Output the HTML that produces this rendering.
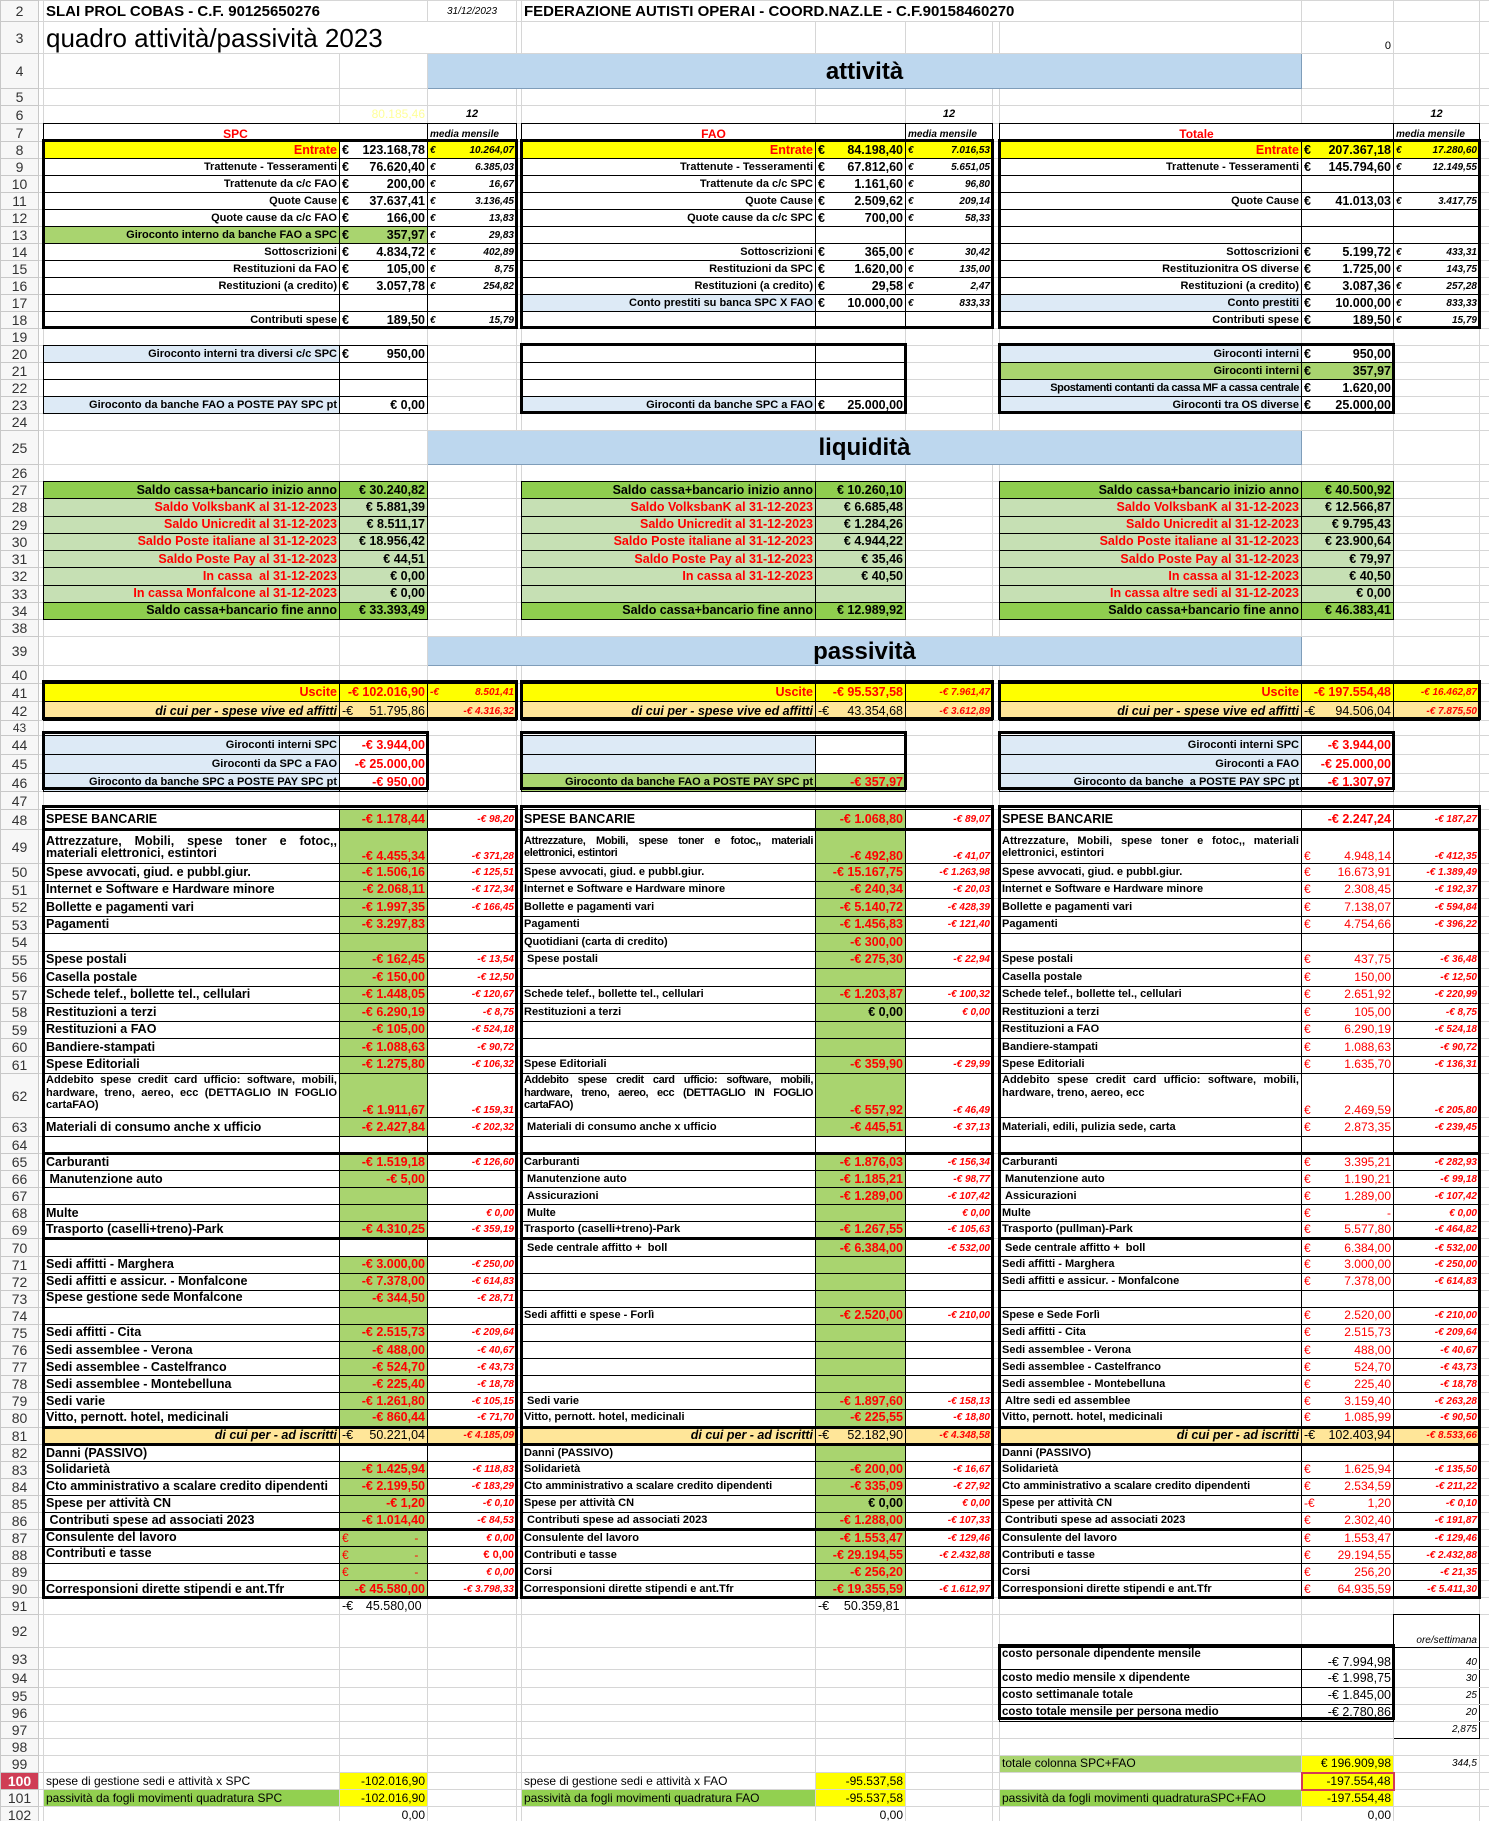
<!DOCTYPE html>
<html><head><meta charset="utf-8">
<style>
html,body{margin:0;padding:0;background:#fff;width:1489px;height:1821px;overflow:hidden;position:relative}
table{position:absolute;left:0;top:0;border-collapse:collapse;table-layout:fixed;width:1489px}
td{border:1px solid #d6d6d6;padding:0 2px;font:bold 11px "Liberation Sans",sans-serif;white-space:nowrap;overflow:hidden;vertical-align:middle;line-height:13px;color:#000}
td.n{font:normal 14px "Liberation Sans",sans-serif;color:#333;text-align:center;vertical-align:middle;background:#f7f7f7;border-color:#c8c8c8;padding:0}
td.hl{background:#cf3d55;color:#fff;font-weight:bold}
.k{border:1px double #000}
.tk td.k{border-bottom:3px solid #000}
.r{text-align:right}.c{text-align:center}
.rd{color:#f00}.it{font-style:italic}.nw{font-weight:normal}
.y{background:#ffff00}.g{background:#a9d46f}.lg{background:#c6e0b4}.dg{background:#8fce4f}.bl{background:#ddeaf6}.or{background:#ffe699}
.v{font-size:12.5px}
.m{font-style:italic;color:#f00;font-size:10px}
.mi{font-style:italic;font-size:10px}
.tv{color:#f00;font-weight:normal;font-size:12px}
.e{float:left}
.w{white-space:normal;text-align:justify;line-height:12.5px}
.bt{vertical-align:bottom}
.nar{letter-spacing:-0.4px}
.big{background:#bdd7ee;border:1px solid #7f9db9;text-align:center;vertical-align:middle;font-size:24px}
.ov{position:absolute;border:3px solid #000;box-sizing:border-box}
</style></head><body>
<table>
<colgroup><col style="width:38px"><col style="width:5px"><col style="width:296px"><col style="width:88px"><col style="width:89px"><col style="width:5px"><col style="width:294px"><col style="width:90px"><col style="width:87px"><col style="width:7px"><col style="width:302px"><col style="width:92px"><col style="width:86px"><col style="width:10px"></colgroup>
<tr style="height:21px"><td class="n">2</td><td></td><td colspan="2" style="font-size:15px">SLAI PROL COBAS - C.F. 90125650276</td><td class="c it nw" style="font-size:10px">31/12/2023</td><td></td><td colspan="5" style="font-size:15px">FEDERAZIONE AUTISTI OPERAI - COORD.NAZ.LE - C.F.90158460270</td><td></td><td></td><td></td></tr>
<tr style="height:32px"><td class="n">3</td><td></td><td colspan="3" class="nw" style="font-size:26px;line-height:30px">quadro attività/passività 2023</td><td></td><td></td><td></td><td></td><td></td><td></td><td class="r nw bt" style="font-size:11px">0</td><td></td><td></td></tr>
<tr style="height:35px"><td class="n">4</td><td></td><td></td><td></td><td colspan="7" class="big">attività</td><td></td><td></td><td></td></tr>
<tr style="height:16px"><td class="n">5</td><td></td><td></td><td></td><td></td><td></td><td></td><td></td><td></td><td></td><td></td><td></td><td></td><td></td></tr>
<tr style="height:18px"><td class="n">6</td><td></td><td></td><td class="r nw" style="color:#ffff99;font-size:12px">80.185,46</td><td class="c it">12</td><td></td><td></td><td></td><td class="c it">12</td><td></td><td></td><td></td><td class="c it">12</td><td></td></tr>
<tr style="height:18px"><td class="n">7</td><td></td><td colspan="2" class="k c rd bt" style="font-size:12px">SPC</td><td class="k mi bt">media mensile</td><td></td><td colspan="2" class="k c rd bt" style="font-size:12px">FAO</td><td class="k mi bt">media mensile</td><td></td><td colspan="2" class="k c rd bt" style="font-size:12px">Totale</td><td class="k mi bt">media mensile</td><td></td></tr>
<tr style="height:17px"><td class="n">8</td><td></td><td class="k r rd y" style="font-size:12.5px">Entrate</td><td class="k r v"><span class="e">€</span>123.168,78</td><td class="k r mi y"><span class="e">€</span>10.264,07</td><td></td><td class="k r rd y" style="font-size:12.5px">Entrate</td><td class="k r v y"><span class="e">€</span>84.198,40</td><td class="k r mi y"><span class="e">€</span>7.016,53</td><td></td><td class="k r rd y" style="font-size:12.5px">Entrate</td><td class="k r v y"><span class="e">€</span>207.367,18</td><td class="k r mi y"><span class="e">€</span>17.280,60</td><td></td></tr>
<tr style="height:17px"><td class="n">9</td><td></td><td class="k r">Trattenute - Tesseramenti</td><td class="k r v"><span class="e">€</span>76.620,40</td><td class="k r mi"><span class="e">€</span>6.385,03</td><td></td><td class="k r">Trattenute - Tesseramenti</td><td class="k r v"><span class="e">€</span>67.812,60</td><td class="k r mi"><span class="e">€</span>5.651,05</td><td></td><td class="k r">Trattenute - Tesseramenti</td><td class="k r v"><span class="e">€</span>145.794,60</td><td class="k r mi"><span class="e">€</span>12.149,55</td><td></td></tr>
<tr style="height:17px"><td class="n">10</td><td></td><td class="k r">Trattenute da c/c FAO</td><td class="k r v"><span class="e">€</span>200,00</td><td class="k r mi"><span class="e">€</span>16,67</td><td></td><td class="k r">Trattenute da c/c SPC</td><td class="k r v"><span class="e">€</span>1.161,60</td><td class="k r mi"><span class="e">€</span>96,80</td><td></td><td class="k"></td><td class="k"></td><td class="k"></td><td></td></tr>
<tr style="height:17px"><td class="n">11</td><td></td><td class="k r">Quote Cause</td><td class="k r v"><span class="e">€</span>37.637,41</td><td class="k r mi"><span class="e">€</span>3.136,45</td><td></td><td class="k r">Quote Cause</td><td class="k r v"><span class="e">€</span>2.509,62</td><td class="k r mi"><span class="e">€</span>209,14</td><td></td><td class="k r">Quote Cause</td><td class="k r v"><span class="e">€</span>41.013,03</td><td class="k r mi"><span class="e">€</span>3.417,75</td><td></td></tr>
<tr style="height:17px"><td class="n">12</td><td></td><td class="k r">Quote cause da c/c FAO</td><td class="k r v"><span class="e">€</span>166,00</td><td class="k r mi"><span class="e">€</span>13,83</td><td></td><td class="k r">Quote cause da c/c SPC</td><td class="k r v"><span class="e">€</span>700,00</td><td class="k r mi"><span class="e">€</span>58,33</td><td></td><td class="k"></td><td class="k"></td><td class="k"></td><td></td></tr>
<tr style="height:17px"><td class="n">13</td><td></td><td class="k r g">Giroconto interno da banche FAO a SPC</td><td class="k r v g"><span class="e">€</span>357,97</td><td class="k r mi"><span class="e">€</span>29,83</td><td></td><td class="k"></td><td class="k"></td><td class="k"></td><td></td><td class="k"></td><td class="k"></td><td class="k"></td><td></td></tr>
<tr style="height:17px"><td class="n">14</td><td></td><td class="k r">Sottoscrizioni</td><td class="k r v"><span class="e">€</span>4.834,72</td><td class="k r mi"><span class="e">€</span>402,89</td><td></td><td class="k r">Sottoscrizioni</td><td class="k r v"><span class="e">€</span>365,00</td><td class="k r mi"><span class="e">€</span>30,42</td><td></td><td class="k r">Sottoscrizioni</td><td class="k r v"><span class="e">€</span>5.199,72</td><td class="k r mi"><span class="e">€</span>433,31</td><td></td></tr>
<tr style="height:17px"><td class="n">15</td><td></td><td class="k r">Restituzioni da FAO</td><td class="k r v"><span class="e">€</span>105,00</td><td class="k r mi"><span class="e">€</span>8,75</td><td></td><td class="k r">Restituzioni da SPC</td><td class="k r v"><span class="e">€</span>1.620,00</td><td class="k r mi"><span class="e">€</span>135,00</td><td></td><td class="k r">Restituzionitra OS diverse</td><td class="k r v"><span class="e">€</span>1.725,00</td><td class="k r mi"><span class="e">€</span>143,75</td><td></td></tr>
<tr style="height:17px"><td class="n">16</td><td></td><td class="k r">Restituzioni (a credito)</td><td class="k r v"><span class="e">€</span>3.057,78</td><td class="k r mi"><span class="e">€</span>254,82</td><td></td><td class="k r">Restituzioni (a credito)</td><td class="k r v"><span class="e">€</span>29,58</td><td class="k r mi"><span class="e">€</span>2,47</td><td></td><td class="k r">Restituzioni (a credito)</td><td class="k r v"><span class="e">€</span>3.087,36</td><td class="k r mi"><span class="e">€</span>257,28</td><td></td></tr>
<tr style="height:17px"><td class="n">17</td><td></td><td class="k"></td><td class="k"></td><td class="k"></td><td></td><td class="k r bl">Conto prestiti su banca SPC X FAO</td><td class="k r v"><span class="e">€</span>10.000,00</td><td class="k r mi"><span class="e">€</span>833,33</td><td></td><td class="k r bl">Conto prestiti</td><td class="k r v"><span class="e">€</span>10.000,00</td><td class="k r mi"><span class="e">€</span>833,33</td><td></td></tr>
<tr style="height:17px"><td class="n">18</td><td></td><td class="k r">Contributi spese</td><td class="k r v"><span class="e">€</span>189,50</td><td class="k r mi"><span class="e">€</span>15,79</td><td></td><td class="k"></td><td class="k"></td><td class="k"></td><td></td><td class="k r">Contributi spese</td><td class="k r v"><span class="e">€</span>189,50</td><td class="k r mi"><span class="e">€</span>15,79</td><td></td></tr>
<tr style="height:17px"><td class="n">19</td><td></td><td></td><td></td><td></td><td></td><td></td><td></td><td></td><td></td><td></td><td></td><td></td><td></td></tr>
<tr style="height:17px"><td class="n">20</td><td></td><td class="k r bl">Giroconto interni tra diversi c/c SPC</td><td class="k r v"><span class="e">€</span>950,00</td><td></td><td></td><td class="k"></td><td class="k"></td><td></td><td></td><td class="k r bl">Giroconti interni</td><td class="k r v"><span class="e">€</span>950,00</td><td></td><td></td></tr>
<tr style="height:17px"><td class="n">21</td><td></td><td class="k"></td><td class="k"></td><td></td><td></td><td class="k"></td><td class="k"></td><td></td><td></td><td class="k r g">Giroconti interni</td><td class="k r v g"><span class="e">€</span>357,97</td><td></td><td></td></tr>
<tr style="height:17px"><td class="n">22</td><td></td><td class="k"></td><td class="k"></td><td></td><td></td><td class="k"></td><td class="k"></td><td></td><td></td><td class="k r bl nar">Spostamenti contanti da cassa MF a cassa centrale</td><td class="k r v"><span class="e">€</span>1.620,00</td><td></td><td></td></tr>
<tr style="height:17px"><td class="n">23</td><td></td><td class="k r bl">Giroconto da banche FAO a POSTE PAY SPC pt</td><td class="k r v">€ 0,00</td><td></td><td></td><td class="k r bl">Giroconti da banche SPC a FAO</td><td class="k r v"><span class="e">€</span>25.000,00</td><td></td><td></td><td class="k r bl">Giroconti tra OS diverse</td><td class="k r v"><span class="e">€</span>25.000,00</td><td></td><td></td></tr>
<tr style="height:17px"><td class="n">24</td><td></td><td></td><td></td><td></td><td></td><td></td><td></td><td></td><td></td><td></td><td></td><td></td><td></td></tr>
<tr style="height:34px"><td class="n">25</td><td></td><td></td><td></td><td colspan="7" class="big">liquidità</td><td></td><td></td><td></td></tr>
<tr style="height:17px"><td class="n">26</td><td></td><td></td><td></td><td></td><td></td><td></td><td></td><td></td><td></td><td></td><td></td><td></td><td></td></tr>
<tr style="height:17.25px"><td class="n">27</td><td></td><td class="k r dg v">Saldo cassa+bancario inizio anno</td><td class="k r dg v">€ 30.240,82</td><td></td><td></td><td class="k r dg v">Saldo cassa+bancario inizio anno</td><td class="k r dg v">€ 10.260,10</td><td></td><td></td><td class="k r dg v">Saldo cassa+bancario inizio anno</td><td class="k r dg v">€ 40.500,92</td><td></td><td></td></tr>
<tr style="height:17.25px"><td class="n">28</td><td></td><td class="k r lg rd v">Saldo VolksbanK al 31-12-2023</td><td class="k r lg v">€ 5.881,39</td><td></td><td></td><td class="k r lg rd v">Saldo VolksbanK al 31-12-2023</td><td class="k r lg v">€ 6.685,48</td><td></td><td></td><td class="k r lg rd v">Saldo VolksbanK al 31-12-2023</td><td class="k r lg v">€ 12.566,87</td><td></td><td></td></tr>
<tr style="height:17.25px"><td class="n">29</td><td></td><td class="k r lg rd v">Saldo Unicredit al 31-12-2023</td><td class="k r lg v">€ 8.511,17</td><td></td><td></td><td class="k r lg rd v">Saldo Unicredit al 31-12-2023</td><td class="k r lg v">€ 1.284,26</td><td></td><td></td><td class="k r lg rd v">Saldo Unicredit al 31-12-2023</td><td class="k r lg v">€ 9.795,43</td><td></td><td></td></tr>
<tr style="height:17.25px"><td class="n">30</td><td></td><td class="k r lg rd v">Saldo Poste italiane al 31-12-2023</td><td class="k r lg v">€ 18.956,42</td><td></td><td></td><td class="k r lg rd v">Saldo Poste italiane al 31-12-2023</td><td class="k r lg v">€ 4.944,22</td><td></td><td></td><td class="k r lg rd v">Saldo Poste italiane al 31-12-2023</td><td class="k r lg v">€ 23.900,64</td><td></td><td></td></tr>
<tr style="height:17.25px"><td class="n">31</td><td></td><td class="k r lg rd v">Saldo Poste Pay al 31-12-2023</td><td class="k r lg v">€ 44,51</td><td></td><td></td><td class="k r lg rd v">Saldo Poste Pay al 31-12-2023</td><td class="k r lg v">€ 35,46</td><td></td><td></td><td class="k r lg rd v">Saldo Poste Pay al 31-12-2023</td><td class="k r lg v">€ 79,97</td><td></td><td></td></tr>
<tr style="height:17.25px"><td class="n">32</td><td></td><td class="k r lg rd v">In cassa &nbsp;al 31-12-2023</td><td class="k r lg v">€ 0,00</td><td></td><td></td><td class="k r lg rd v">In cassa al 31-12-2023</td><td class="k r lg v">€ 40,50</td><td></td><td></td><td class="k r lg rd v">In cassa al 31-12-2023</td><td class="k r lg v">€ 40,50</td><td></td><td></td></tr>
<tr style="height:17.25px"><td class="n">33</td><td></td><td class="k r lg rd v">In cassa Monfalcone al 31-12-2023</td><td class="k r lg v">€ 0,00</td><td></td><td></td><td class="k r lg rd v"></td><td class="k r lg v"></td><td></td><td></td><td class="k r lg rd v">In cassa altre sedi al 31-12-2023</td><td class="k r lg v">€ 0,00</td><td></td><td></td></tr>
<tr style="height:17.25px"><td class="n">34</td><td></td><td class="k r dg v">Saldo cassa+bancario fine anno</td><td class="k r dg v">€ 33.393,49</td><td></td><td></td><td class="k r dg v">Saldo cassa+bancario fine anno</td><td class="k r dg v">€ 12.989,92</td><td></td><td></td><td class="k r dg v">Saldo cassa+bancario fine anno</td><td class="k r dg v">€ 46.383,41</td><td></td><td></td></tr>
<tr style="height:16px"><td class="n">38</td><td></td><td></td><td></td><td></td><td></td><td></td><td></td><td></td><td></td><td></td><td></td><td></td><td></td></tr>
<tr style="height:29px"><td class="n">39</td><td></td><td></td><td></td><td colspan="7" class="big">passività</td><td></td><td></td><td></td></tr>
<tr style="height:18px"><td class="n">40</td><td></td><td></td><td></td><td></td><td></td><td></td><td></td><td></td><td></td><td></td><td></td><td></td><td></td></tr>
<tr style="height:18px"><td class="n">41</td><td></td><td class="k r y rd v">Uscite</td><td class="k r y rd v">-€ 102.016,90</td><td class="k r y m"><span class="e">-€</span>8.501,41</td><td></td><td class="k r y rd v">Uscite</td><td class="k r y rd v">-€ 95.537,58</td><td class="k r y m">-€ 7.961,47</td><td></td><td class="k r y rd v">Uscite</td><td class="k r y rd v">-€ 197.554,48</td><td class="k r y m">-€ 16.462,87</td><td></td></tr>
<tr style="height:19px"><td class="n">42</td><td></td><td class="k r or it v">di cui per - spese vive ed affitti</td><td class="k r or nw v"><span class="e">-€</span>51.795,86</td><td class="k r or m">-€ 4.316,32</td><td></td><td class="k r or it v">di cui per - spese vive ed affitti</td><td class="k r or nw v"><span class="e">-€</span>43.354,68</td><td class="k r or m">-€ 3.612,89</td><td></td><td class="k r or it v">di cui per - spese vive ed affitti</td><td class="k r or nw v"><span class="e">-€</span>94.506,04</td><td class="k r or m">-€ 7.875,50</td><td></td></tr>
<tr style="height:14px"><td class="n" style="font-size:12px">43</td><td></td><td></td><td></td><td></td><td></td><td></td><td></td><td></td><td></td><td></td><td></td><td></td><td></td></tr>
<tr style="height:19px"><td class="n">44</td><td></td><td class="k r bl">Giroconti interni SPC</td><td class="k r rd v">-€ 3.944,00</td><td></td><td></td><td class="k bl"></td><td class="k"></td><td></td><td></td><td class="k r bl">Giroconti interni SPC</td><td class="k r rd v">-€ 3.944,00</td><td></td><td></td></tr>
<tr style="height:19px"><td class="n">45</td><td></td><td class="k r bl">Giroconti da SPC a FAO</td><td class="k r rd v">-€ 25.000,00</td><td></td><td></td><td class="k bl"></td><td class="k"></td><td></td><td></td><td class="k r bl">Giroconti a FAO</td><td class="k r rd v">-€ 25.000,00</td><td></td><td></td></tr>
<tr style="height:18px"><td class="n">46</td><td></td><td class="k r bl">Giroconto da banche SPC a POSTE PAY SPC pt</td><td class="k r rd v">-€ 950,00</td><td></td><td></td><td class="k r g">Giroconto da banche FAO a POSTE PAY SPC pt</td><td class="k r rd v g">-€ 357,97</td><td></td><td></td><td class="k r bl">Giroconto da banche &nbsp;a POSTE PAY SPC pt</td><td class="k r rd v">-€ 1.307,97</td><td></td><td></td></tr>
<tr style="height:18px"><td class="n">47</td><td></td><td></td><td></td><td></td><td></td><td></td><td></td><td></td><td></td><td></td><td></td><td></td><td></td></tr>
<tr class="tk" style="height:20px"><td class="n">48</td><td></td><td class="k v">SPESE BANCARIE</td><td class="k r g rd v">-€ 1.178,44</td><td class="k r m">-€ 98,20</td><td></td><td class="k v">SPESE BANCARIE</td><td class="k r g rd v">-€ 1.068,80</td><td class="k r m">-€ 89,07</td><td></td><td class="k v">SPESE BANCARIE</td><td class="k r rd v">-€ 2.247,24</td><td class="k r m">-€ 187,27</td><td></td></tr>
<tr style="height:34px"><td class="n">49</td><td></td><td class="k w v">Attrezzature, Mobili, spese toner e fotoc,, materiali elettronici, estintori</td><td class="k r g rd v bt">-€ 4.455,34</td><td class="k r m bt">-€ 371,28</td><td></td><td class="k w nar">Attrezzature, Mobili, spese toner e fotoc,, materiali elettronici, estintori</td><td class="k r g rd v bt">-€ 492,80</td><td class="k r m bt">-€ 41,07</td><td></td><td class="k w">Attrezzature, Mobili, spese toner e fotoc,, materiali elettronici, estintori</td><td class="k r tv bt"><span class="e">€</span>4.948,14</td><td class="k r m bt">-€ 412,35</td><td></td></tr>
<tr style="height:17.5px"><td class="n">50</td><td></td><td class="k v">Spese avvocati, giud. e pubbl.giur.</td><td class="k r g rd v">-€ 1.506,16</td><td class="k r m">-€ 125,51</td><td></td><td class="k">Spese avvocati, giud. e pubbl.giur.</td><td class="k r g rd v">-€ 15.167,75</td><td class="k r m">-€ 1.263,98</td><td></td><td class="k">Spese avvocati, giud. e pubbl.giur.</td><td class="k r tv"><span class="e">€</span>16.673,91</td><td class="k r m">-€ 1.389,49</td><td></td></tr>
<tr style="height:17.5px"><td class="n">51</td><td></td><td class="k v">Internet e Software e Hardware minore</td><td class="k r g rd v">-€ 2.068,11</td><td class="k r m">-€ 172,34</td><td></td><td class="k">Internet e Software e Hardware minore</td><td class="k r g rd v">-€ 240,34</td><td class="k r m">-€ 20,03</td><td></td><td class="k">Internet e Software e Hardware minore</td><td class="k r tv"><span class="e">€</span>2.308,45</td><td class="k r m">-€ 192,37</td><td></td></tr>
<tr style="height:17.5px"><td class="n">52</td><td></td><td class="k v">Bollette e pagamenti vari</td><td class="k r g rd v">-€ 1.997,35</td><td class="k r m">-€ 166,45</td><td></td><td class="k">Bollette e pagamenti vari</td><td class="k r g rd v">-€ 5.140,72</td><td class="k r m">-€ 428,39</td><td></td><td class="k">Bollette e pagamenti vari</td><td class="k r tv"><span class="e">€</span>7.138,07</td><td class="k r m">-€ 594,84</td><td></td></tr>
<tr style="height:17.5px"><td class="n">53</td><td></td><td class="k v">Pagamenti</td><td class="k r g rd v">-€ 3.297,83</td><td class="k"></td><td></td><td class="k">Pagamenti</td><td class="k r g rd v">-€ 1.456,83</td><td class="k r m">-€ 121,40</td><td></td><td class="k">Pagamenti</td><td class="k r tv"><span class="e">€</span>4.754,66</td><td class="k r m">-€ 396,22</td><td></td></tr>
<tr style="height:17.5px"><td class="n">54</td><td></td><td class="k"></td><td class="k g"></td><td class="k"></td><td></td><td class="k">Quotidiani (carta di credito)</td><td class="k r g rd v">-€ 300,00</td><td class="k"></td><td></td><td class="k"></td><td class="k"></td><td class="k"></td><td></td></tr>
<tr style="height:17.5px"><td class="n">55</td><td></td><td class="k v">Spese postali</td><td class="k r g rd v">-€ 162,45</td><td class="k r m">-€ 13,54</td><td></td><td class="k">&nbsp;Spese postali</td><td class="k r g rd v">-€ 275,30</td><td class="k r m">-€ 22,94</td><td></td><td class="k">Spese postali</td><td class="k r tv"><span class="e">€</span>437,75</td><td class="k r m">-€ 36,48</td><td></td></tr>
<tr style="height:17.5px"><td class="n">56</td><td></td><td class="k v">Casella postale</td><td class="k r g rd v">-€ 150,00</td><td class="k r m">-€ 12,50</td><td></td><td class="k"></td><td class="k g"></td><td class="k"></td><td></td><td class="k">Casella postale</td><td class="k r tv"><span class="e">€</span>150,00</td><td class="k r m">-€ 12,50</td><td></td></tr>
<tr style="height:17.5px"><td class="n">57</td><td></td><td class="k v">Schede telef., bollette tel., cellulari</td><td class="k r g rd v">-€ 1.448,05</td><td class="k r m">-€ 120,67</td><td></td><td class="k">Schede telef., bollette tel., cellulari</td><td class="k r g rd v">-€ 1.203,87</td><td class="k r m">-€ 100,32</td><td></td><td class="k">Schede telef., bollette tel., cellulari</td><td class="k r tv"><span class="e">€</span>2.651,92</td><td class="k r m">-€ 220,99</td><td></td></tr>
<tr style="height:17.5px"><td class="n">58</td><td></td><td class="k v">Restituzioni a terzi</td><td class="k r g rd v">-€ 6.290,19</td><td class="k r m">-€ 8,75</td><td></td><td class="k">Restituzioni a terzi</td><td class="k r g v">€ 0,00</td><td class="k r m">€ 0,00</td><td></td><td class="k">Restituzioni a terzi</td><td class="k r tv"><span class="e">€</span>105,00</td><td class="k r m">-€ 8,75</td><td></td></tr>
<tr style="height:17.5px"><td class="n">59</td><td></td><td class="k v">Restituzioni a FAO</td><td class="k r g rd v">-€ 105,00</td><td class="k r m">-€ 524,18</td><td></td><td class="k"></td><td class="k g"></td><td class="k"></td><td></td><td class="k">Restituzioni a FAO</td><td class="k r tv"><span class="e">€</span>6.290,19</td><td class="k r m">-€ 524,18</td><td></td></tr>
<tr style="height:17.5px"><td class="n">60</td><td></td><td class="k v">Bandiere-stampati</td><td class="k r g rd v">-€ 1.088,63</td><td class="k r m">-€ 90,72</td><td></td><td class="k"></td><td class="k g"></td><td class="k"></td><td></td><td class="k">Bandiere-stampati</td><td class="k r tv"><span class="e">€</span>1.088,63</td><td class="k r m">-€ 90,72</td><td></td></tr>
<tr style="height:17.5px"><td class="n">61</td><td></td><td class="k v">Spese Editoriali</td><td class="k r g rd v">-€ 1.275,80</td><td class="k r m">-€ 106,32</td><td></td><td class="k">Spese Editoriali</td><td class="k r g rd v">-€ 359,90</td><td class="k r m">-€ 29,99</td><td></td><td class="k">Spese Editoriali</td><td class="k r tv"><span class="e">€</span>1.635,70</td><td class="k r m">-€ 136,31</td><td></td></tr>
<tr style="height:44px"><td class="n">62</td><td></td><td class="k w" style="vertical-align:top">Addebito spese credit card ufficio: software, mobili, hardware, treno, aereo, ecc (DETTAGLIO IN FOGLIO cartaFAO)</td><td class="k r g rd v bt">-€ 1.911,67</td><td class="k r m bt">-€ 159,31</td><td></td><td class="k w nar" style="vertical-align:top">Addebito spese credit card ufficio: software, mobili, hardware, treno, aereo, ecc (DETTAGLIO IN FOGLIO cartaFAO)</td><td class="k r g rd v bt">-€ 557,92</td><td class="k r m bt">-€ 46,49</td><td></td><td class="k w" style="vertical-align:top">Addebito spese credit card ufficio: software, mobili, hardware, treno, aereo, ecc</td><td class="k r tv bt"><span class="e">€</span>2.469,59</td><td class="k r m bt">-€ 205,80</td><td></td></tr>
<tr style="height:19px"><td class="n">63</td><td></td><td class="k v">Materiali di consumo anche x ufficio</td><td class="k r g rd v">-€ 2.427,84</td><td class="k r m">-€ 202,32</td><td></td><td class="k">&nbsp;Materiali di consumo anche x ufficio</td><td class="k r g rd v">-€ 445,51</td><td class="k r m">-€ 37,13</td><td></td><td class="k">Materiali, edili, pulizia sede, carta</td><td class="k r tv"><span class="e">€</span>2.873,35</td><td class="k r m">-€ 239,45</td><td></td></tr>
<tr class="tk" style="height:17px"><td class="n">64</td><td></td><td class="k"></td><td class="k"></td><td class="k"></td><td></td><td class="k"></td><td class="k"></td><td class="k"></td><td></td><td class="k"></td><td class="k"></td><td class="k"></td><td></td></tr>
<tr style="height:17.1px"><td class="n">65</td><td></td><td class="k v">Carburanti</td><td class="k r g rd v">-€ 1.519,18</td><td class="k r m">-€ 126,60</td><td></td><td class="k">Carburanti</td><td class="k r g rd v">-€ 1.876,03</td><td class="k r m">-€ 156,34</td><td></td><td class="k">Carburanti</td><td class="k r tv"><span class="e">€</span>3.395,21</td><td class="k r m">-€ 282,93</td><td></td></tr>
<tr style="height:17.1px"><td class="n">66</td><td></td><td class="k v">&nbsp;Manutenzione auto</td><td class="k r g rd v">-€ 5,00</td><td class="k"></td><td></td><td class="k">&nbsp;Manutenzione auto</td><td class="k r g rd v">-€ 1.185,21</td><td class="k r m">-€ 98,77</td><td></td><td class="k">&nbsp;Manutenzione auto</td><td class="k r tv"><span class="e">€</span>1.190,21</td><td class="k r m">-€ 99,18</td><td></td></tr>
<tr style="height:17.1px"><td class="n">67</td><td></td><td class="k"></td><td class="k g"></td><td class="k"></td><td></td><td class="k">&nbsp;Assicurazioni</td><td class="k r g rd v">-€ 1.289,00</td><td class="k r m">-€ 107,42</td><td></td><td class="k">&nbsp;Assicurazioni</td><td class="k r tv"><span class="e">€</span>1.289,00</td><td class="k r m">-€ 107,42</td><td></td></tr>
<tr style="height:17.1px"><td class="n">68</td><td></td><td class="k v">Multe</td><td class="k g"></td><td class="k r m">€ 0,00</td><td></td><td class="k">&nbsp;Multe</td><td class="k g"></td><td class="k r m">€ 0,00</td><td></td><td class="k">Multe</td><td class="k r tv"><span class="e">€</span>-</td><td class="k r m">€ 0,00</td><td></td></tr>
<tr class="tk" style="height:17.1px"><td class="n">69</td><td></td><td class="k v">Trasporto (caselli+treno)-Park</td><td class="k r g rd v">-€ 4.310,25</td><td class="k r m">-€ 359,19</td><td></td><td class="k">Trasporto (caselli+treno)-Park</td><td class="k r g rd v">-€ 1.267,55</td><td class="k r m">-€ 105,63</td><td></td><td class="k">Trasporto (pullman)-Park</td><td class="k r tv"><span class="e">€</span>5.577,80</td><td class="k r m">-€ 464,82</td><td></td></tr>
<tr style="height:17.1px"><td class="n">70</td><td></td><td class="k"></td><td class="k"></td><td class="k"></td><td></td><td class="k">&nbsp;Sede centrale affitto + &nbsp;boll</td><td class="k r g rd v">-€ 6.384,00</td><td class="k r m">-€ 532,00</td><td></td><td class="k">&nbsp;Sede centrale affitto + &nbsp;boll</td><td class="k r tv"><span class="e">€</span>6.384,00</td><td class="k r m">-€ 532,00</td><td></td></tr>
<tr style="height:17.1px"><td class="n">71</td><td></td><td class="k v">Sedi affitti - Marghera</td><td class="k r g rd v">-€ 3.000,00</td><td class="k r m">-€ 250,00</td><td></td><td class="k"></td><td class="k g"></td><td class="k"></td><td></td><td class="k">Sedi affitti - Marghera</td><td class="k r tv"><span class="e">€</span>3.000,00</td><td class="k r m">-€ 250,00</td><td></td></tr>
<tr style="height:17.1px"><td class="n">72</td><td></td><td class="k v">Sedi affitti e assicur. - Monfalcone</td><td class="k r g rd v">-€ 7.378,00</td><td class="k r m">-€ 614,83</td><td></td><td class="k"></td><td class="k g"></td><td class="k"></td><td></td><td class="k">Sedi affitti e assicur. - Monfalcone</td><td class="k r tv"><span class="e">€</span>7.378,00</td><td class="k r m">-€ 614,83</td><td></td></tr>
<tr style="height:17.1px"><td class="n">73</td><td></td><td class="k v" style="vertical-align:top">Spese gestione sede Monfalcone</td><td class="k r g rd v">-€ 344,50</td><td class="k r m">-€ 28,71</td><td></td><td class="k"></td><td class="k g"></td><td class="k"></td><td></td><td class="k"></td><td class="k"></td><td class="k"></td><td></td></tr>
<tr style="height:17.1px"><td class="n">74</td><td></td><td class="k"></td><td class="k g"></td><td class="k"></td><td></td><td class="k">Sedi affitti e spese - Forlì</td><td class="k r g rd v">-€ 2.520,00</td><td class="k r m">-€ 210,00</td><td></td><td class="k">Spese e Sede Forlì</td><td class="k r tv"><span class="e">€</span>2.520,00</td><td class="k r m">-€ 210,00</td><td></td></tr>
<tr style="height:17.1px"><td class="n">75</td><td></td><td class="k v">Sedi affitti - Cita</td><td class="k r g rd v">-€ 2.515,73</td><td class="k r m">-€ 209,64</td><td></td><td class="k"></td><td class="k g"></td><td class="k"></td><td></td><td class="k">Sedi affitti - Cita</td><td class="k r tv"><span class="e">€</span>2.515,73</td><td class="k r m">-€ 209,64</td><td></td></tr>
<tr style="height:17.1px"><td class="n">76</td><td></td><td class="k v">Sedi assemblee - Verona</td><td class="k r g rd v">-€ 488,00</td><td class="k r m">-€ 40,67</td><td></td><td class="k"></td><td class="k g"></td><td class="k"></td><td></td><td class="k">Sedi assemblee - Verona</td><td class="k r tv"><span class="e">€</span>488,00</td><td class="k r m">-€ 40,67</td><td></td></tr>
<tr style="height:17.1px"><td class="n">77</td><td></td><td class="k v">Sedi assemblee - Castelfranco</td><td class="k r g rd v">-€ 524,70</td><td class="k r m">-€ 43,73</td><td></td><td class="k"></td><td class="k g"></td><td class="k"></td><td></td><td class="k">Sedi assemblee - Castelfranco</td><td class="k r tv"><span class="e">€</span>524,70</td><td class="k r m">-€ 43,73</td><td></td></tr>
<tr style="height:17.1px"><td class="n">78</td><td></td><td class="k v">Sedi assemblee - Montebelluna</td><td class="k r g rd v">-€ 225,40</td><td class="k r m">-€ 18,78</td><td></td><td class="k"></td><td class="k g"></td><td class="k"></td><td></td><td class="k">Sedi assemblee - Montebelluna</td><td class="k r tv"><span class="e">€</span>225,40</td><td class="k r m">-€ 18,78</td><td></td></tr>
<tr style="height:17.1px"><td class="n">79</td><td></td><td class="k v">Sedi varie</td><td class="k r g rd v">-€ 1.261,80</td><td class="k r m">-€ 105,15</td><td></td><td class="k">&nbsp;Sedi varie</td><td class="k r g rd v">-€ 1.897,60</td><td class="k r m">-€ 158,13</td><td></td><td class="k">&nbsp;Altre sedi ed assemblee</td><td class="k r tv"><span class="e">€</span>3.159,40</td><td class="k r m">-€ 263,28</td><td></td></tr>
<tr class="tk" style="height:17.1px"><td class="n">80</td><td></td><td class="k v">Vitto, pernott. hotel, medicinali</td><td class="k r g rd v">-€ 860,44</td><td class="k r m">-€ 71,70</td><td></td><td class="k">Vitto, pernott. hotel, medicinali</td><td class="k r g rd v">-€ 225,55</td><td class="k r m">-€ 18,80</td><td></td><td class="k">Vitto, pernott. hotel, medicinali</td><td class="k r tv"><span class="e">€</span>1.085,99</td><td class="k r m">-€ 90,50</td><td></td></tr>
<tr class="tk" style="height:17.1px"><td class="n">81</td><td></td><td class="k r or it v">di cui per - ad iscritti</td><td class="k r or nw v"><span class="e">-€</span>50.221,04</td><td class="k r or m">-€ 4.185,09</td><td></td><td class="k r or it v">di cui per - ad iscritti</td><td class="k r or nw v"><span class="e">-€</span>52.182,90</td><td class="k r or m">-€ 4.348,58</td><td></td><td class="k r or it v">di cui per - ad iscritti</td><td class="k r or nw v"><span class="e">-€</span>102.403,94</td><td class="k r or m">-€ 8.533,66</td><td></td></tr>
<tr style="height:17.1px"><td class="n">82</td><td></td><td class="k v">Danni (PASSIVO)</td><td class="k"></td><td class="k"></td><td></td><td class="k">Danni (PASSIVO)</td><td class="k g"></td><td class="k"></td><td></td><td class="k">Danni (PASSIVO)</td><td class="k"></td><td class="k"></td><td></td></tr>
<tr style="height:17.1px"><td class="n">83</td><td></td><td class="k v">Solidarietà</td><td class="k r g rd v">-€ 1.425,94</td><td class="k r m">-€ 118,83</td><td></td><td class="k">Solidarietà</td><td class="k r g rd v">-€ 200,00</td><td class="k r m">-€ 16,67</td><td></td><td class="k">Solidarietà</td><td class="k r tv"><span class="e">€</span>1.625,94</td><td class="k r m">-€ 135,50</td><td></td></tr>
<tr style="height:17.1px"><td class="n">84</td><td></td><td class="k v">Cto amministrativo a scalare credito dipendenti</td><td class="k r g rd v">-€ 2.199,50</td><td class="k r m">-€ 183,29</td><td></td><td class="k">Cto amministrativo a scalare credito dipendenti</td><td class="k r g rd v">-€ 335,09</td><td class="k r m">-€ 27,92</td><td></td><td class="k">Cto amministrativo a scalare credito dipendenti</td><td class="k r tv"><span class="e">€</span>2.534,59</td><td class="k r m">-€ 211,22</td><td></td></tr>
<tr style="height:17.1px"><td class="n">85</td><td></td><td class="k v">Spese per attività CN</td><td class="k r g rd v">-€ 1,20</td><td class="k r m">-€ 0,10</td><td></td><td class="k">Spese per attività CN</td><td class="k r g v">€ 0,00</td><td class="k r m">€ 0,00</td><td></td><td class="k">Spese per attività CN</td><td class="k r tv"><span class="e">-€</span>1,20</td><td class="k r m">-€ 0,10</td><td></td></tr>
<tr class="tk" style="height:17.1px"><td class="n">86</td><td></td><td class="k v">&nbsp;Contributi spese ad associati 2023</td><td class="k r g rd v">-€ 1.014,40</td><td class="k r m">-€ 84,53</td><td></td><td class="k">&nbsp;Contributi spese ad associati 2023</td><td class="k r g rd v">-€ 1.288,00</td><td class="k r m">-€ 107,33</td><td></td><td class="k">&nbsp;Contributi spese ad associati 2023</td><td class="k r tv"><span class="e">€</span>2.302,40</td><td class="k r m">-€ 191,87</td><td></td></tr>
<tr style="height:17.1px"><td class="n">87</td><td></td><td class="k v" style="vertical-align:top">Consulente del lavoro</td><td class="k r g tv"><span class="e">€</span>- &nbsp;</td><td class="k r m">€ 0,00</td><td></td><td class="k">Consulente del lavoro</td><td class="k r g rd v">-€ 1.553,47</td><td class="k r m">-€ 129,46</td><td></td><td class="k">Consulente del lavoro</td><td class="k r tv"><span class="e">€</span>1.553,47</td><td class="k r m">-€ 129,46</td><td></td></tr>
<tr style="height:17.1px"><td class="n">88</td><td></td><td class="k v" style="vertical-align:top">Contributi e tasse</td><td class="k r g tv"><span class="e">€</span>- &nbsp;</td><td class="k r rd">€ 0,00</td><td></td><td class="k">Contributi e tasse</td><td class="k r g rd v">-€ 29.194,55</td><td class="k r m">-€ 2.432,88</td><td></td><td class="k">Contributi e tasse</td><td class="k r tv"><span class="e">€</span>29.194,55</td><td class="k r m">-€ 2.432,88</td><td></td></tr>
<tr style="height:17.1px"><td class="n">89</td><td></td><td class="k"></td><td class="k r g tv"><span class="e">€</span>- &nbsp;</td><td class="k r m">€ 0,00</td><td></td><td class="k">Corsi</td><td class="k r g rd v">-€ 256,20</td><td class="k"></td><td></td><td class="k">Corsi</td><td class="k r tv"><span class="e">€</span>256,20</td><td class="k r m">-€ 21,35</td><td></td></tr>
<tr style="height:17.1px"><td class="n">90</td><td></td><td class="k v">Corresponsioni dirette stipendi e ant.Tfr</td><td class="k r g rd v">-€ 45.580,00</td><td class="k r m">-€ 3.798,33</td><td></td><td class="k">Corresponsioni dirette stipendi e ant.Tfr</td><td class="k r g rd v">-€ 19.355,59</td><td class="k r m">-€ 1.612,97</td><td></td><td class="k">Corresponsioni dirette stipendi e ant.Tfr</td><td class="k r tv"><span class="e">€</span>64.935,59</td><td class="k r m">-€ 5.411,30</td><td></td></tr>
<tr style="height:17px"><td class="n">91</td><td></td><td></td><td class="r nw v"><span class="e">-€</span>45.580,00&nbsp;</td><td></td><td></td><td></td><td class="r nw v"><span class="e">-€</span>50.359,81&nbsp;</td><td></td><td></td><td></td><td></td><td></td><td></td></tr>
<tr style="height:33px"><td class="n">92</td><td></td><td></td><td></td><td></td><td></td><td></td><td></td><td></td><td></td><td></td><td></td><td class="r it nw k bt" style="font-size:10px">ore/settimana</td><td></td></tr>
<tr style="height:22px"><td class="n">93</td><td></td><td></td><td></td><td></td><td></td><td></td><td></td><td></td><td></td><td class="k" style="vertical-align:top;font-size:11.5px">costo personale dipendente mensile</td><td class="k r nw v bt">-€ 7.994,98</td><td class="r it nw bt" style="border-left:1px solid #000;border-right:1px solid #000;font-size:10px">40</td><td></td></tr>
<tr style="height:17.1px"><td class="n">94</td><td></td><td></td><td></td><td></td><td></td><td></td><td></td><td></td><td></td><td class="k" style="font-size:11.5px">costo medio mensile x dipendente</td><td class="k r nw v">-€ 1.998,75</td><td class="r it nw" style="border-left:1px solid #000;border-right:1px solid #000;font-size:10px">30</td><td></td></tr>
<tr style="height:17.1px"><td class="n">95</td><td></td><td></td><td></td><td></td><td></td><td></td><td></td><td></td><td></td><td class="k" style="font-size:11.5px">costo settimanale totale</td><td class="k r nw v">-€ 1.845,00</td><td class="r it nw" style="border-left:1px solid #000;border-right:1px solid #000;font-size:10px">25</td><td></td></tr>
<tr style="height:17.1px"><td class="n">96</td><td></td><td></td><td></td><td></td><td></td><td></td><td></td><td></td><td></td><td class="k" style="font-size:11.5px">costo totale mensile per persona medio</td><td class="k r nw v">-€ 2.780,86</td><td class="r it nw" style="border-left:1px solid #000;border-right:1px solid #000;font-size:10px">20</td><td></td></tr>
<tr style="height:17.1px"><td class="n">97</td><td></td><td></td><td></td><td></td><td></td><td></td><td></td><td></td><td></td><td></td><td></td><td class="r it nw" style="border:1px solid #000;border-top-color:#d6d6d6;font-size:10px">2,875</td><td></td></tr>
<tr style="height:17.1px"><td class="n">98</td><td></td><td></td><td></td><td></td><td></td><td></td><td></td><td></td><td></td><td></td><td></td><td></td><td></td></tr>
<tr style="height:17.1px"><td class="n">99</td><td></td><td></td><td></td><td></td><td></td><td></td><td></td><td></td><td></td><td class="nw g" style="font-size:12px">totale colonna SPC+FAO</td><td class="r nw y" style="font-size:12px">€ 196.909,98</td><td class="r it nw" style="font-size:10px">344,5</td><td></td></tr>
<tr style="height:17.1px"><td class="n hl">100</td><td></td><td class="nw" style="font-size:12px">spese di gestione sedi e attività x SPC</td><td class="r nw y" style="font-size:12px">-102.016,90</td><td></td><td></td><td class="nw" style="font-size:12px">spese di gestione sedi e attività x FAO</td><td class="r nw y" style="font-size:12px">-95.537,58</td><td></td><td></td><td></td><td class="r nw y" style="font-size:12px;border:2px solid #d33b55">-197.554,48</td><td></td><td></td></tr>
<tr style="height:17.1px"><td class="n">101</td><td></td><td class="nw" style="font-size:12px;background:#92d050">passività da fogli movimenti quadratura SPC</td><td class="r nw y" style="font-size:12px">-102.016,90</td><td></td><td></td><td class="nw" style="font-size:12px;background:#92d050">passività da fogli movimenti quadratura FAO</td><td class="r nw y" style="font-size:12px">-95.537,58</td><td></td><td></td><td class="nw" style="font-size:12px;background:#92d050">passività da fogli movimenti quadraturaSPC+FAO</td><td class="r nw y" style="font-size:12px">-197.554,48</td><td></td><td></td></tr>
<tr style="height:17.1px"><td class="n">102</td><td></td><td></td><td class="r nw" style="font-size:12px">0,00</td><td></td><td></td><td></td><td class="r nw" style="font-size:12px">0,00</td><td></td><td></td><td></td><td class="r nw" style="font-size:12px">0,00</td><td></td><td></td></tr>
</table>
<div class="ov" style="left:42px;top:139px;width:476px;height:190px"></div>
<div class="ov" style="left:520px;top:139px;width:474px;height:190px"></div>
<div class="ov" style="left:998px;top:139px;width:483px;height:190px"></div>
<div class="ov" style="left:520px;top:343px;width:387px;height:71px"></div>
<div class="ov" style="left:998px;top:343px;width:397px;height:71px"></div>
<div class="ov" style="left:42px;top:680px;width:476px;height:40px"></div>
<div class="ov" style="left:520px;top:680px;width:474px;height:40px"></div>
<div class="ov" style="left:998px;top:680px;width:483px;height:40px"></div>
<div class="ov" style="left:42px;top:731px;width:387px;height:59px"></div>
<div class="ov" style="left:520px;top:731px;width:387px;height:59px"></div>
<div class="ov" style="left:998px;top:731px;width:397px;height:59px"></div>
<div class="ov" style="left:42px;top:805px;width:476px;height:794px"></div>
<div class="ov" style="left:520px;top:805px;width:474px;height:794px"></div>
<div class="ov" style="left:998px;top:805px;width:483px;height:794px"></div>
<div class="ov" style="left:998px;top:1644px;width:397px;height:76px"></div>
</body></html>
